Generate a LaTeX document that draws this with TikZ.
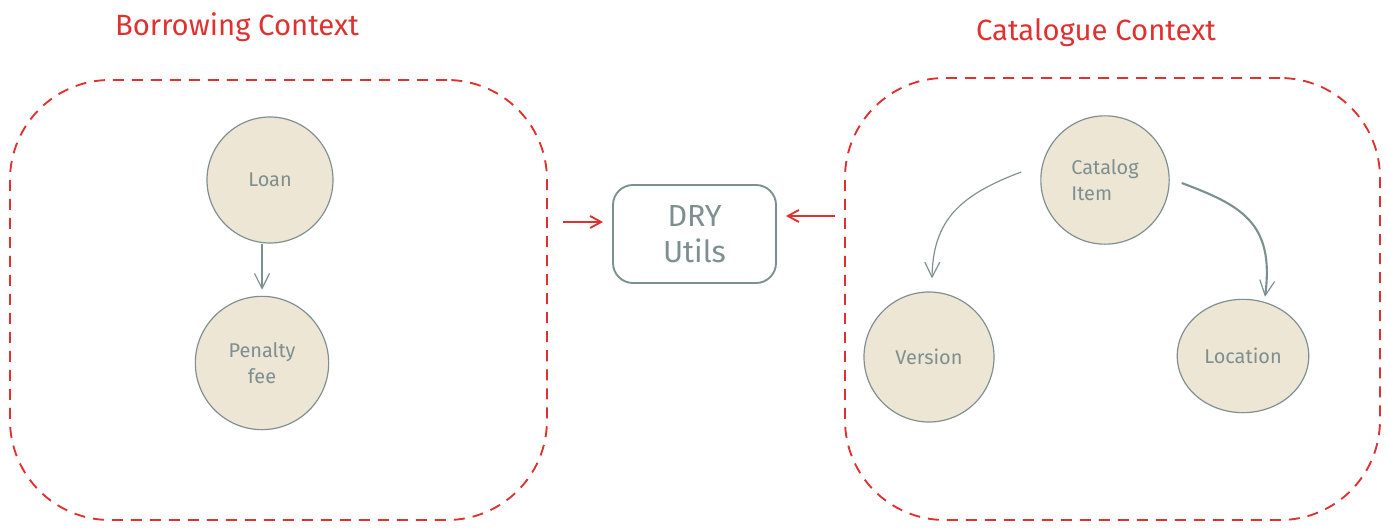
\documentclass[tikz,border=0pt]{standalone}
\usepackage{fontspec}
\setmainfont{Fira Sans}
\usetikzlibrary{arrows.meta,shapes.geometric}
\definecolor{redc}{HTML}{E03131}
\definecolor{grayc}{HTML}{7D8F90}
\definecolor{beige}{HTML}{EDE6D4}
\tikzset{
  container/.style={draw=redc, line width=1.6pt, dash pattern=on 0.33cm off 0.24cm, rounded corners=3cm},
  ctitle/.style={text=redc, font=\fontsize{25}{30}\selectfont},
  entity/.style={circle, draw=grayc, fill=beige, line width=1pt, text=grayc, font=\fontsize{17}{22}\selectfont, align=left, inner sep=0pt},
  utilbox/.style={draw=grayc, line width=1.6pt, rounded corners=0.6cm, text=grayc, font=\fontsize{26}{31}\selectfont, align=center, minimum width=4.89cm, minimum height=2.94cm},
  conn/.style={draw=grayc, line width=1pt, -{Straight Barb[length=0.45cm,width=0.45cm,line width=1pt]}},
  thickconn/.style={conn, line width=1.8pt},
  redarr/.style={draw=redc, line width=1.6pt, -{Straight Barb[length=0.33cm,width=0.36cm,line width=1.6pt]}}
}
\begin{document}
\begin{tikzpicture}[x=0.03cm,y=-0.03cm]
\useasboundingbox (0,0) rectangle (1391,530);
% containers
\node[container, minimum width=16.11cm, minimum height=13.2cm] (lbox) at (278.5,300) {};
\node[container, minimum width=16.05cm, minimum height=13.26cm] (rbox) at (1112.5,299) {};
\node[ctitle] (ltitle) at (237,27) {Borrowing Context};
\node[ctitle] (rtitle) at (1096,33) {Catalogue Context};
% center
\node[utilbox] (dry) at (694.5,234) {DRY\\Utils};
% left entities
\node[entity, minimum size=3.78cm] (loan) at (270,180) {Loan};
\node[entity, align=center, minimum size=4.0cm] (pen) at (262,363) {Penalty\\fee};
% right entities
\node[entity, minimum size=3.85cm] (cat) at (1105,180) {Catalog\\Item};
\node[entity, minimum size=3.9cm] (ver) at (929,357) {Version};
\node[entity, ellipse, minimum width=3.95cm, minimum height=3.4cm] (loc) at (1243,356) {Location};
% connectors
\draw[thickconn, shorten >=0.18cm] (loan.south -| pen.north) -- (pen.north);
\draw[conn] ([shift={(-19,-8)}]cat.west) .. controls (960,195) and (933,220) .. ([shift={(3,-13)}]ver.north);
\draw[thickconn] ([shift={(12,3)}]cat.east) .. controls (1240,205) and (1275,222) .. ([shift={(22,-2)}]loc.north);
\coordinate (la) at (563,222);
\coordinate (ra) at (835,216);
\draw[redarr, shorten >=0.27cm] (la) -- (la -| dry.west);
\draw[redarr, shorten >=0.27cm] (ra) -- (ra -| dry.east);
\end{tikzpicture}
\end{document}
